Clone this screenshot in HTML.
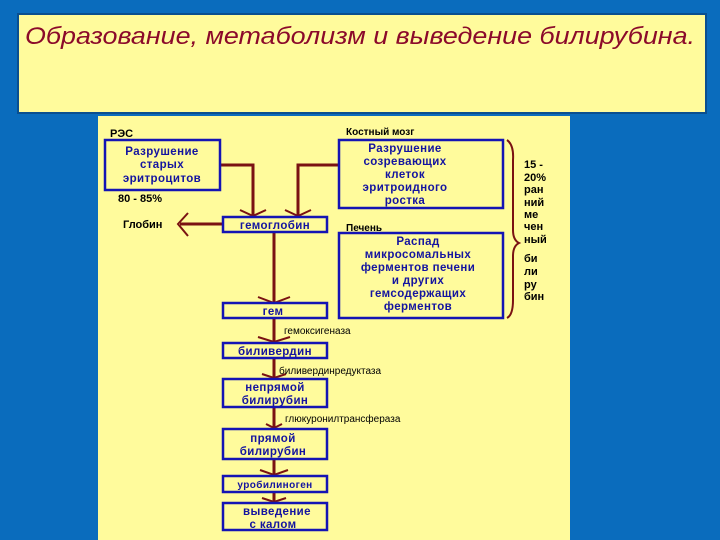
<!DOCTYPE html>
<html><head><meta charset="utf-8"><style>
body{margin:0;width:720px;height:540px;background:#0a6cbd;overflow:hidden}
svg{display:block}
</style></head><body>
<svg width="720" height="540" viewBox="0 0 720 540" xmlns="http://www.w3.org/2000/svg">
<rect x="0" y="0" width="720" height="540" fill="#0a6cbd"/>
<rect x="17" y="13" width="690" height="101" fill="#0a4f8f"/>
<rect x="19" y="15" width="686" height="97" fill="#fffb9c"/>
<text x="25" y="44" font-family="Liberation Sans, sans-serif" font-style="italic" font-size="24" fill="#8b0a2a" textLength="670" lengthAdjust="spacingAndGlyphs">Образование, метаболизм и выведение билирубина.</text>
<rect x="98" y="116" width="472" height="424" fill="#fffb9c"/>
<g fill="none" stroke="#7a1212" stroke-width="3">
<path d="M220 165 H253 V216"/>
<path d="M339 165 H298 V216"/>
<path d="M223 224 H180"/>
<path d="M274 232 V302"/>
<path d="M274 318 V342"/>
<path d="M274 358 V378"/>
<path d="M274 407 V428"/>
<path d="M274 459 V475"/>
<path d="M274 492 V502"/>
</g>
<g fill="none" stroke="#7a1212" stroke-width="2">
<path d="M240 210 L253 216 L266 210"/>
<path d="M285 210 L298 216 L311 210"/>
<path d="M188 213 L178 224 L188 236"/>
<path d="M258 297 L274 303 L290 297"/>
<path d="M258 337 L274 342 L290 337"/>
<path d="M262 374 L274 378 L286 374"/>
<path d="M266 424 L274 428 L282 424"/>
<path d="M260 470 L274 475 L288 470"/>
<path d="M262 498 L274 502 L286 498"/>
<path d="M507 140 Q514 145 513 160 L513 230 Q513 240 519 243 Q513 246 513 256 L513 300 Q513 315 507 318"/>
</g>
<g fill="none" stroke="#1414b4" stroke-width="2.5">
<rect x="105" y="140" width="115" height="50"/>
<rect x="339" y="140" width="164" height="68"/>
<rect x="339" y="233" width="164" height="85"/>
<rect x="223" y="217" width="104" height="15"/>
<rect x="223" y="303" width="104" height="15"/>
<rect x="223" y="343" width="104" height="15"/>
<rect x="223" y="379" width="104" height="28"/>
<rect x="223" y="429" width="104" height="30"/>
<rect x="223" y="476" width="104" height="16"/>
<rect x="223" y="503" width="104" height="27"/>
</g>
<g font-family="Liberation Sans, sans-serif" font-weight="bold" font-size="11" fill="#000">
<text x="110" y="137">РЭС</text>
<text x="118" y="202">80 - 85%</text>
<text x="346" y="135" font-size="10">Костный мозг</text>
<text x="346" y="231" font-size="10">Печень</text>
<text x="123" y="228">Глобин</text>
<text x="284" y="334" font-size="10" font-weight="500">гемоксигеназа</text>
<text x="279" y="374" font-size="10" font-weight="500">биливердинредуктаза</text>
<text x="285" y="422" font-size="10" font-weight="500">глюкуронилтрансфераза</text>
<g font-size="11">
<text x="524" y="168">15 -</text><text x="524" y="181">20%</text><text x="524" y="193">ран</text><text x="524" y="206">ний</text><text x="524" y="218">ме</text><text x="524" y="230">чен</text><text x="524" y="243">ный</text>
<text x="524" y="262">би</text><text x="524" y="275">ли</text><text x="524" y="288">ру</text><text x="524" y="300">бин</text>
</g>
</g>
<g font-family="Liberation Sans, sans-serif" font-weight="bold" font-size="11.5" fill="#1414a0" text-anchor="middle" letter-spacing="0.4">
<text x="162" y="155">Разрушение</text><text x="162" y="168">старых</text><text x="162" y="182">эритроцитов</text>
<text x="405" y="152">Разрушение</text><text x="405" y="165">созревающих</text><text x="405" y="178">клеток</text><text x="405" y="191">эритроидного</text><text x="405" y="204">ростка</text>
<text x="418" y="245">Распад</text><text x="418" y="258">микросомальных</text><text x="418" y="271">ферментов печени</text><text x="418" y="284">и других</text><text x="418" y="297">гемсодержащих</text><text x="418" y="310">ферментов</text>
<text x="275" y="229">гемоглобин</text>
<text x="273" y="315">гем</text>
<text x="275" y="355">биливердин</text>
<text x="275" y="391">непрямой</text><text x="275" y="404">билирубин</text>
<text x="273" y="442">прямой</text><text x="273" y="455">билирубин</text>
<text x="275" y="488" font-size="10">уробилиноген</text>
<text x="277" y="515">выведение</text><text x="273" y="528">с калом</text>
</g>
</svg>
</body></html>
